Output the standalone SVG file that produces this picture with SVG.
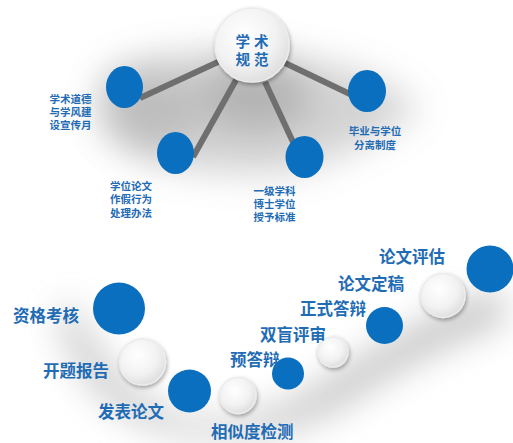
<svg xmlns="http://www.w3.org/2000/svg" width="513" height="443" viewBox="0 0 513 443">
<defs>
<filter id="blur20" x="-50%" y="-50%" width="200%" height="200%"><feGaussianBlur stdDeviation="18"/></filter>
<filter id="sh" x="-50%" y="-50%" width="200%" height="200%"><feGaussianBlur in="SourceAlpha" stdDeviation="2"/><feOffset dx="1" dy="2"/><feComponentTransfer><feFuncA type="linear" slope="0.35"/></feComponentTransfer><feMerge><feMergeNode/><feMergeNode in="SourceGraphic"/></feMerge></filter>
<radialGradient id="wg" cx="0.4" cy="0.35" r="0.7"><stop offset="0" stop-color="#ffffff"/><stop offset="0.6" stop-color="#f2f2f2"/><stop offset="1" stop-color="#dcdcdc"/></radialGradient>
</defs>
<style>
.blue{fill:#0a6fbe}
.white{fill:url(#wg);stroke:#ececec;stroke-width:1.5}
.t{font-family:"Liberation Sans","Noto Sans CJK SC","Noto Sans CJK JP",sans-serif;font-weight:bold;fill:#1f6cb5}
.s{font-size:10.5px}
.b{font-size:16.5px}
.conn{stroke:#6f6f6f;stroke-width:6;stroke-linecap:butt;fill:none}
</style>
<rect width="513" height="443" fill="#ffffff"/>
<g id="shadows" fill="#8f8f8f">
<path d="M110 70 Q200 40 300 60 Q380 70 420 110 Q360 150 300 170 Q220 180 150 160 Q80 130 110 70Z" opacity="0.4" filter="url(#blur20)"/>
<ellipse cx="255" cy="95" rx="55" ry="35" opacity="0.45" filter="url(#blur20)"/>
<ellipse cx="150" cy="110" rx="50" ry="40" opacity="0.3" filter="url(#blur20)"/>
<path d="M70 300 Q110 400 190 420 Q260 430 330 380 Q420 320 500 290 L505 320 Q420 350 340 405 Q260 450 170 430 Q90 410 60 320Z" opacity="0.6" filter="url(#blur20)"/>
</g>
<g id="connectors">
<line class="conn" x1="218" y1="62" x2="140" y2="98"/>
<line class="conn" x1="236" y1="80" x2="193" y2="157"/>
<line class="conn" x1="265" y1="82" x2="293" y2="142"/>
<line class="conn" x1="285" y1="63" x2="354" y2="96"/>
</g>
<g id="n-center">
<circle cx="252" cy="45" r="37" class="white" filter="url(#sh)"/>
<text class="t" font-size="14.5" text-anchor="middle" letter-spacing="4"><tspan x="254" y="47">学术</tspan><tspan x="254" y="65">规范</tspan></text>
</g>
<g id="n1">
<ellipse cx="124.5" cy="87" rx="18.5" ry="21" class="blue"/>
<text class="t s" text-anchor="middle"><tspan x="70.5" y="103">学术道德</tspan><tspan x="70.5" y="116">与学风建</tspan><tspan x="70.5" y="129">设宣传月</tspan></text>
</g>
<g id="n2">
<ellipse cx="175.5" cy="153" rx="18.5" ry="21" class="blue"/>
<text class="t s" text-anchor="middle"><tspan x="131" y="190">学位论文</tspan><tspan x="131" y="203">作假行为</tspan><tspan x="131" y="216.5">处理办法</tspan></text>
</g>
<g id="n3">
<ellipse cx="304.5" cy="157" rx="19" ry="21" class="blue"/>
<text class="t s" text-anchor="middle"><tspan x="274.5" y="195">一级学科</tspan><tspan x="274.5" y="208">博士学位</tspan><tspan x="274.5" y="221">授予标准</tspan></text>
</g>
<g id="n4">
<ellipse cx="367" cy="91" rx="19" ry="21" class="blue"/>
<text class="t s" text-anchor="middle"><tspan x="375" y="135">毕业与学位</tspan><tspan x="375" y="149">分离制度</tspan></text>
</g>
<g id="s1">
<circle cx="119" cy="308.5" r="26" class="blue"/>
<text class="t b" x="13" y="322">资格考核</text>
</g>
<g id="s2">
<circle cx="142.5" cy="362" r="23" class="white" filter="url(#sh)"/>
<text class="t b" x="43" y="377">开题报告</text>
</g>
<g id="s3">
<circle cx="189.5" cy="391" r="21.5" class="blue"/>
<text class="t b" x="98" y="418">发表论文</text>
</g>
<g id="s4">
<circle cx="238" cy="395.5" r="18" class="white" filter="url(#sh)"/>
<text class="t b" x="211" y="438">相似度检测</text>
</g>
<g id="s5">
<circle cx="288" cy="373.5" r="16" class="blue"/>
<text class="t b" x="230" y="366">预答辩</text>
</g>
<g id="s6">
<circle cx="333" cy="352" r="15" class="white" filter="url(#sh)"/>
<text class="t b" x="260" y="341">双盲评审</text>
</g>
<g id="s7">
<circle cx="384.5" cy="325.5" r="18.5" class="blue"/>
<text class="t b" x="300" y="315">正式答辩</text>
</g>
<g id="s8">
<circle cx="443" cy="295.5" r="22" class="white" filter="url(#sh)"/>
<text class="t b" x="338" y="290">论文定稿</text>
</g>
<g id="s9">
<circle cx="490" cy="269" r="23.5" class="blue"/>
<text class="t b" x="379" y="263">论文评估</text>
</g>
</svg>
